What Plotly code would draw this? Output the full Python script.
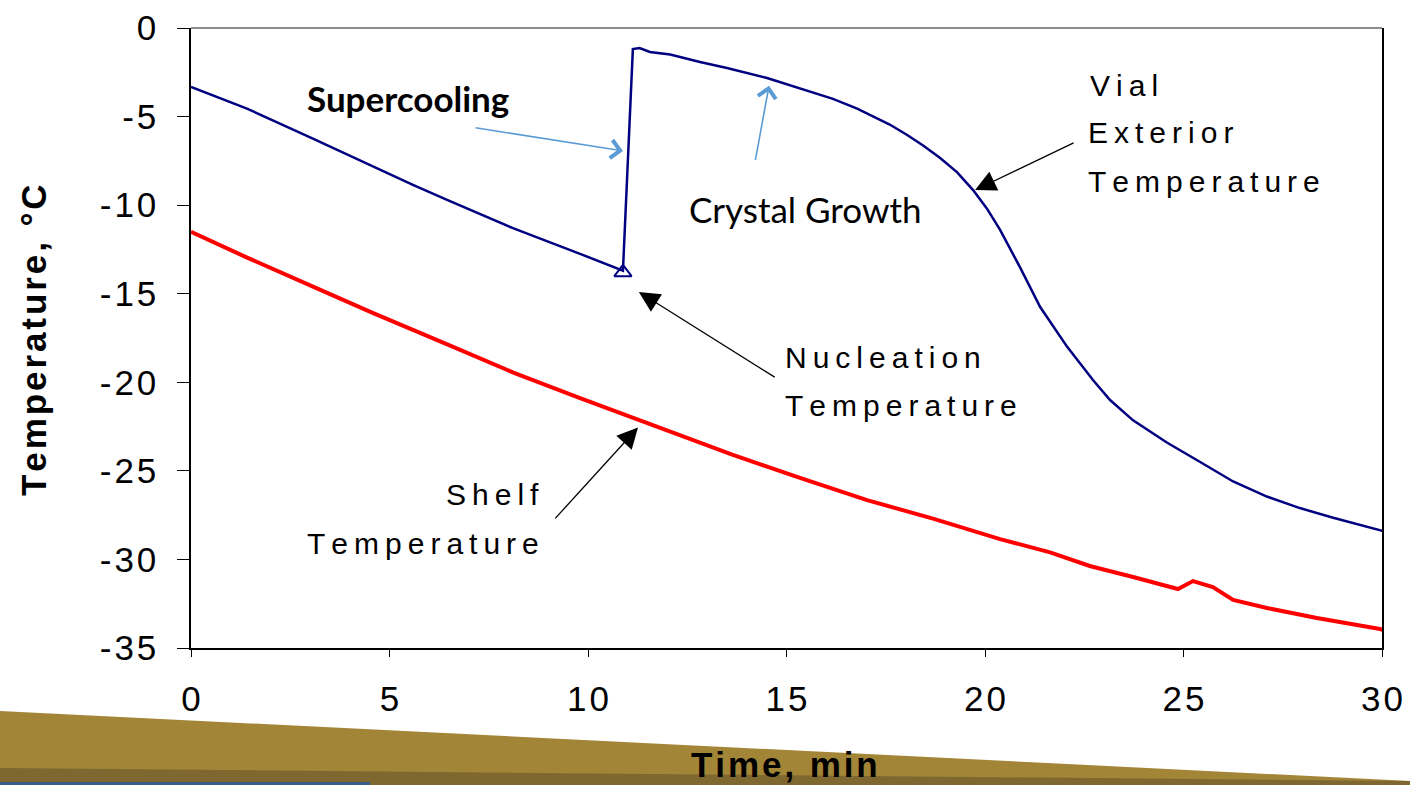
import plotly.graph_objects as go

# ---- data ----
vial_time = [0, 1.41, 3.07, 4.76, 5.59, 6.45, 8.11, 9.8, 10.63, 10.88,
             11.13, 11.3, 11.56, 12.07, 12.82, 13.5, 14.51, 15.34, 16.17, 16.78,
             17.18, 17.6, 18.04, 18.45, 18.87, 19.3, 19.7, 20.05, 20.38, 20.88,
             21.39, 22.07, 22.72, 23.15, 23.73, 24.58, 25.42, 26.25, 27.1, 27.93,
             28.77, 30.0, 30.2]
vial_temp = [-3.33, -4.55, -6.25, -8.0, -8.85, -9.7, -11.3, -12.75, -13.45, -13.7,
             -1.19, -1.13, -1.35, -1.5, -1.92, -2.26, -2.82, -3.4, -4.0, -4.55,
             -4.97, -5.45, -6.04, -6.65, -7.34, -8.15, -9.15, -10.2, -11.4, -13.5,
             -15.75, -18.0, -19.87, -21.0, -22.15, -23.4, -24.5, -25.6, -26.45, -27.1,
             -27.65, -28.4, -28.5]

shelf_time = [0, 1.40, 3.33, 4.59, 6.44, 8.12, 9.80, 10.30, 11.31, 11.99,
              13.65, 15.34, 17.03, 18.69, 20.38, 21.64, 22.64, 23.73, 24.86, 25.24,
              25.74, 26.25, 27.1, 28.36, 29.95, 30.2]
shelf_temp = [-11.5, -12.95, -14.85, -16.1, -17.85, -19.45, -20.9, -21.32, -22.13, -22.75,
              -24.1, -25.4, -26.65, -27.7, -28.85, -29.6, -30.37, -30.99, -31.67, -31.22,
              -31.56, -32.29, -32.74, -33.31, -33.93, -34.1]

nucleation_time = [10.88]
nucleation_temp = [-13.8]

x_ticks = [0, 5, 10, 15, 20, 25, 30]
y_ticks = [0, -5, -10, -15, -20, -25, -30, -35]

NAVY = "#000080"
RED = "#FF0000"
LBLUE = "#5B9BD5"
ARIAL = "Liberation Sans, Arial, sans-serif"
CALIBRI = "Lato, Carlito, sans-serif"
TS = "\u2009"  # thin space (letter spacing)
HS = "\u200A"  # hair space


def spaced(s, sep=TS):
    return sep.join(list(s))


fig = go.Figure()
fig.add_trace(go.Scatter(x=shelf_time, y=shelf_temp, mode="lines",
                         line=dict(color=RED, width=4), showlegend=False))
fig.add_trace(go.Scatter(x=vial_time, y=vial_temp, mode="lines",
                         line=dict(color=NAVY, width=2.5), showlegend=False))
fig.add_trace(go.Scatter(x=nucleation_time, y=nucleation_temp, mode="markers",
                         marker=dict(symbol="triangle-up-open", size=15,
                                     color=NAVY, line=dict(color=NAVY, width=2)),
                         showlegend=False))

# plot-area geometry (pixels) for paper conversions
L, R, T, B = 191, 1382, 28, 648
W, H = 1410, 785


def px(xp):
    return (xp - L) / (R - L)


def py(yp):
    return (B - yp) / (B - T)


shapes = [
    # slide decoration band at the bottom
    dict(type="path", xref="paper", yref="paper",
         path=f"M {px(0)},{py(711)} L {px(1410)},{py(781)} L {px(1410)},{py(786)} L {px(0)},{py(786)} Z",
         fillcolor="#A38538", line=dict(width=0), layer="below"),
    dict(type="path", xref="paper", yref="paper",
         path=f"M {px(0)},{py(768)} L {px(1410)},{py(781)} L {px(1410)},{py(786)} L {px(0)},{py(786)} Z",
         fillcolor="#7E6830", line=dict(width=0), layer="below"),
    dict(type="rect", xref="paper", yref="paper",
         x0=px(0), x1=px(370), y0=py(786), y1=py(782),
         fillcolor="#3B5B8C", line=dict(width=0), layer="below"),
    # top border (grey)
    dict(type="line", xref="paper", yref="paper", x0=0, x1=1, y0=1, y1=1,
         line=dict(color="#8C8C8C", width=2)),
]

annotations = []


def arrow(head, tail, color, head_style, size, width):
    annotations.append(dict(x=head[0], y=head[1], ax=tail[0], ay=tail[1],
                            xref="x", yref="y", axref="x", ayref="y",
                            text="", showarrow=True, arrowhead=head_style,
                            arrowsize=size, arrowwidth=width, arrowcolor=color,
                            standoff=0, startstandoff=0))


def label(xp, yp, text, font, size, anchor="left", bold=False, angle=0):
    annotations.append(dict(x=px(xp), y=py(yp), xref="paper", yref="paper",
                            text=f"<b>{text}</b>" if bold else text,
                            showarrow=False, xanchor=anchor, yanchor="middle",
                            textangle=angle,
                            font=dict(family=font, size=size, color="black")))


# arrows (head, tail) in data coordinates
arrow((10.88, -6.94), (7.13, -5.62), LBLUE, 4, 2.2, 1.6)      # supercooling
arrow((14.56, -3.26), (14.21, -7.53), LBLUE, 4, 2.2, 1.6)     # crystal growth
arrow((19.75, -9.15), (22.27, -6.44), "black", 2, 3.2, 1.3)   # vial exterior
arrow((11.28, -14.9), (14.74, -19.76), "black", 2, 3.2, 1.3)  # nucleation
arrow((11.26, -22.55), (9.14, -27.77), "black", 2, 3.2, 1.3)  # shelf

label(305, 98, "Supercooling", CALIBRI, 35, bold=True)
label(687, 209, "Crystal Growth", CALIBRI, 35)
label(1088, 86, spaced("Vial"), ARIAL, 30)
label(1086, 133, spaced("Exterior"), ARIAL, 30)
label(1086, 181, spaced("Temperature"), ARIAL, 30)
label(783, 357, spaced("Nucleation"), ARIAL, 30)
label(783, 406, spaced("Temperature"), ARIAL, 30)
label(541, 495, spaced("Shelf"), ARIAL, 30, anchor="right")
label(541, 543, spaced("Temperature"), ARIAL, 30, anchor="right")

# axis titles
label(34, 340, spaced("Temperature, °C", HS), ARIAL, 35, anchor="center", bold=True, angle=-90)
label(784, 764, spaced("Time, min", HS), ARIAL, 35, anchor="center", bold=True)

fig.update_layout(
    width=W, height=H,
    margin=dict(l=L, r=W - R, t=T, b=H - B, autoexpand=False),
    paper_bgcolor="white", plot_bgcolor="white",
    shapes=shapes, annotations=annotations,
    font=dict(family=ARIAL, color="black"),
)
fig.update_xaxes(range=[0, 30], tickvals=x_ticks,
                 ticktext=[spaced(str(v), HS) for v in x_ticks],
                 ticks="outside", ticklen=7, tickwidth=1.3, tickcolor="black",
                 showline=True, linecolor="black", linewidth=1.5, automargin=False,
                 showgrid=False, zeroline=False, ticklabelstandoff=12,
                 tickfont=dict(family=ARIAL, size=35, color="black"))
fig.update_yaxes(range=[-35, 0], tickvals=y_ticks,
                 ticktext=[spaced(str(v), HS) for v in y_ticks],
                 ticks="outside", ticklen=12, tickwidth=1.3, tickcolor="black",
                 showline=True, linecolor="black", linewidth=1.5, mirror=True,
                 automargin=False,
                 showgrid=False, zeroline=False, ticklabelstandoff=14,
                 tickfont=dict(family=ARIAL, size=35, color="black"))

fig.write_html("out.html", config={"displayModeBar": False},
               post_script="document.body.style.margin='0';document.body.style.padding='0';"
                           "document.body.style.overflow='hidden';")
